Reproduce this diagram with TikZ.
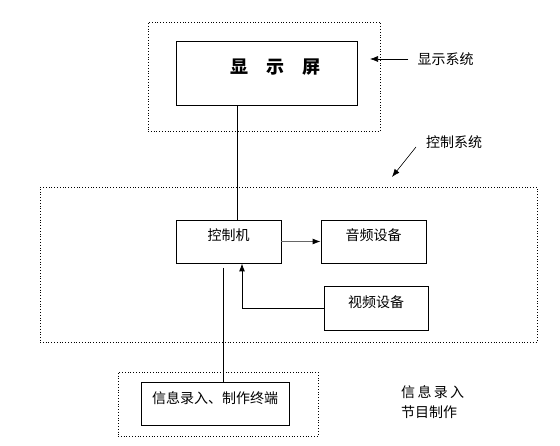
\documentclass[tikz,border=0pt]{standalone}
\usepackage{fontspec}
\setmainfont{Noto Sans CJK SC}
\usetikzlibrary{arrows.meta}

\begin{document}
\begin{tikzpicture}[x=1pt,y=-1pt]
        \useasboundingbox (0,0) rectangle (560,446);
        \begin{scope}[
            every node/.style={shape=rectangle,inner sep=0pt,font=\fontsize{14pt}{20pt}\selectfont}
        ]
            % dotted frames
            \node[draw,dotted,line width=0.8pt,minimum width=232pt,minimum height=109pt] (DG) at (264,76.5) {};
            \node[draw,dotted,line width=0.8pt,minimum width=497pt,minimum height=155pt] (CG) at (288.5,264.5) {};
            \node[draw,dotted,line width=0.8pt,minimum width=200pt,minimum height=64pt] (IG) at (218,404) {};

            % boxes
            \node[draw,line width=0.9pt,minimum width=181pt,minimum height=64pt,text height=12pt,text depth=10pt,font=\fontsize{18pt}{20pt}\selectfont\bfseries] (D) at (266.5,73) {\hspace*{18pt}显\hspace{18pt}示\hspace{18pt}屏};
            \node[draw,line width=0.9pt,minimum width=105pt,minimum height=43pt,text height=12pt,text depth=13pt] (C) at (228.5,241.5) {控制机};
            \node[draw,line width=0.9pt,minimum width=105pt,minimum height=43pt,text height=12pt,text depth=13pt] (A) at (373.5,241.5) {音频设备};
            \node[draw,line width=0.9pt,minimum width=104pt,minimum height=44pt,text height=12pt,text depth=12pt] (V) at (376,308) {视频设备};
            \node[draw,line width=0.9pt,minimum width=148pt,minimum height=43pt,text height=12pt,text depth=13pt] (I) at (215,403.5) {信息录入、制作终端};

            % side labels
            \node (LD) at (445.5,59) {显示系统};
            \node (LC) at (454,142) {控制系统};
            \node[anchor=west,align=left] (LI) at (401,402) {信\,息\,录\,入\\节目制作};

            \coordinate (T1) at (370,59);
            \coordinate (T2) at (392,177);
            \coordinate (S2) at (416,147);
            \coordinate (E1) at (223,268);
        \end{scope}
        \begin{scope}[
            every edge/.style={draw=black,line width=0.9pt},
            >={Latex[length=8pt,width=6pt]}
        ]
            \path [-] ([xshift=8.5pt]C.north) edge ([xshift=8.5pt]C.north |- D.south);
            \path [-] (E1) edge (E1 |- I.north);
            \path [->] (C.east) edge[draw=black!60,-{Latex[length=8pt,width=6pt,fill=black,color=black]}] (A.west);
            \draw [->,line width=0.9pt] (V.west) -- ([xshift=13.5pt]V.west -| C.south) -- ([xshift=13.5pt]C.south);
            \path [->] ([xshift=-9pt]LD.west) edge[line width=0.6pt] (T1);
            \path [->] (S2) edge[line width=0.6pt] (T2);
        \end{scope}
    \end{tikzpicture}
\end{document}
